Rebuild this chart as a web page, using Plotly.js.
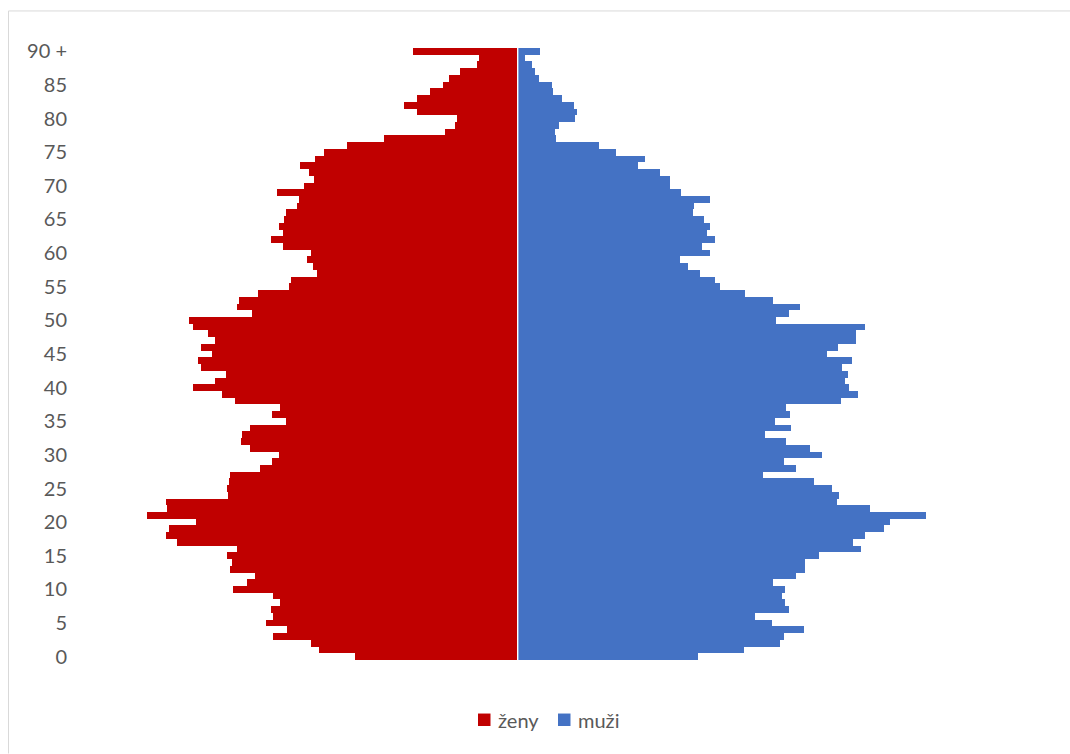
<!DOCTYPE html>
<html>
<head>
<meta charset="utf-8">
<script src="https://cdn.plot.ly/plotly-3.0.1.min.js"></script>
<style>
html,body{margin:0;padding:0;background:#fff;}
#chart{width:1070px;height:754px;}
</style>
</head>
<body>
<div id="chart"></div>
<script>
const ages = [0,1,2,3,4,5,6,7,8,9,10,11,12,13,14,15,16,17,18,19,20,21,22,23,24,25,26,27,28,29,30,31,32,33,34,35,36,37,38,39,40,41,42,43,44,45,46,47,48,49,50,51,52,53,54,55,56,57,58,59,60,61,62,63,64,65,66,67,68,69,70,71,72,73,74,75,76,77,78,79,80,81,82,83,84,85,86,87,88,89,90];

const zeny = [162.3,198,205.7,243.7,229.7,251,243.7,246,237.3,243.7,
 284.3,270,262,287,285.3,290,280,340.3,350.7,347.7,
 321.3,369.7,349.7,350.7,288.7,290,288,286.7,256.7,244.7,
 237.7,267,275.7,275,266.7,231,245,236.7,282,295,
 323.7,302,291.3,316.3,318.7,304.7,316,302,309,324,
 328,265,279.7,278,259,227.7,226.3,199.7,204,210.3,
 205.7,234,246,234.3,238,233,231,220.3,218.3,239.7,
 213,203,207.7,216.7,202.3,192.7,170.3,133,72.3,61.7,
 60,99.7,113,100.3,86.7,73.7,68.3,57,39.7,38,
 104.3];

const muzi = [180.7,227,262.7,266.7,286.7,254.7,238.3,272,267.7,265.3,
 267.7,255.7,279,288,287.7,302,344,336.3,347.7,367,
 372.7,409.3,352.7,320,321.7,315,296.7,245.7,278.7,267.3,
 305,293.3,268.7,247.7,274.3,258.3,273.3,269.3,324.3,340.7,
 331.7,328.3,331.3,325.3,335.3,310,321,338.7,338.7,348,
 259,271.7,282.7,256.3,227.7,202.7,197.7,183,171.3,163,
 192.7,185,197.7,189.7,193,187.3,175.7,177.3,192.7,164,
 152.7,152.7,143.3,121,127.7,98.7,82,39,37.7,42,
 58.3,59.7,56.7,45,36,35,22.3,18,14.7,8,
 23];

const tickAges = [0,5,10,15,20,25,30,35,40,45,50,55,60,65,70,75,80,85,90];
const tickLabels = ["0","5","10","15","20","25","30","35","40","45","50","55","60","65","70","75","80","85","90 +"];

const seriesNames = ["ženy","muži"];
const seriesColors = ["#C00000","#4472C4"];

const W = 1070, H = 754;
const mL = 75, mR = 20, mT = 47.6, mB = 93.6;
const pw = W - mL - mR, ph = H - mT - mB;
const px2x = p => (p - mL) / pw;
const px2y = p => (H - mB - p) / ph;

const traces = [
  {type:'bar', orientation:'h', name:seriesNames[0], y:ages, x:zeny.map(v => -v),
   marker:{color:seriesColors[0], line:{width:0}}},
  {type:'bar', orientation:'h', name:seriesNames[1], y:ages, x:muzi,
   marker:{color:seriesColors[1], line:{width:0}}}
];

// manual legend (positions in pixels)
const legendItems = [{sq:478, tx:496}, {sq:558, tx:576}];
const legendShapes = legendItems.map((it, i) => ({
  type:'rect', xref:'paper', yref:'paper',
  x0:px2x(it.sq), x1:px2x(it.sq + 12.5), y0:px2y(714), y1:px2y(726.5),
  fillcolor:seriesColors[i], line:{width:0}
}));
const legendAnn = legendItems.map((it, i) => ({
  xref:'paper', yref:'paper', x:px2x(it.tx), y:px2y(720), xanchor:'left', yanchor:'middle',
  text:seriesNames[i], showarrow:false, font:{size:20, color:'#595959'}
}));

const layout = {
  width:W, height:H,
  margin:{l:mL, r:mR, t:mT, b:mB, pad:0},
  paper_bgcolor:'#ffffff', plot_bgcolor:'#ffffff',
  barmode:'overlay', bargap:0,
  font:{family:'Lato, "Open Sans", sans-serif', color:'#595959', size:20},
  xaxis:{range:[mL - 517, mL + pw - 517], showgrid:false, zeroline:false, showticklabels:false, ticks:'', showline:false, fixedrange:true},
  yaxis:{range:[-0.5, 90.5], tickvals:tickAges, ticktext:tickLabels, showgrid:false, zeroline:false, ticks:'', showline:false,
         tickfont:{size:20, color:'#595959'}, ticklabelstandoff:7},
  showlegend:false,
  annotations:legendAnn,
  shapes:[
    {type:'line', xref:'x', yref:'paper', x0:0.7, x1:0.7, y0:0, y1:1, line:{color:'#ffffff', width:1.4}},
    {type:'line', xref:'paper', yref:'paper', x0:px2x(8.5), x1:px2x(1070), y0:px2y(10.5), y1:px2y(10.5), line:{color:'#d9d9d9', width:1}},
    {type:'line', xref:'paper', yref:'paper', x0:px2x(8.5), x1:px2x(8.5), y0:px2y(10.5), y1:px2y(754), line:{color:'#d9d9d9', width:1}}
  ].concat(legendShapes)
};

Plotly.newPlot('chart', traces, layout, {displayModeBar:false, staticPlot:true});
</script>
</body>
</html>
